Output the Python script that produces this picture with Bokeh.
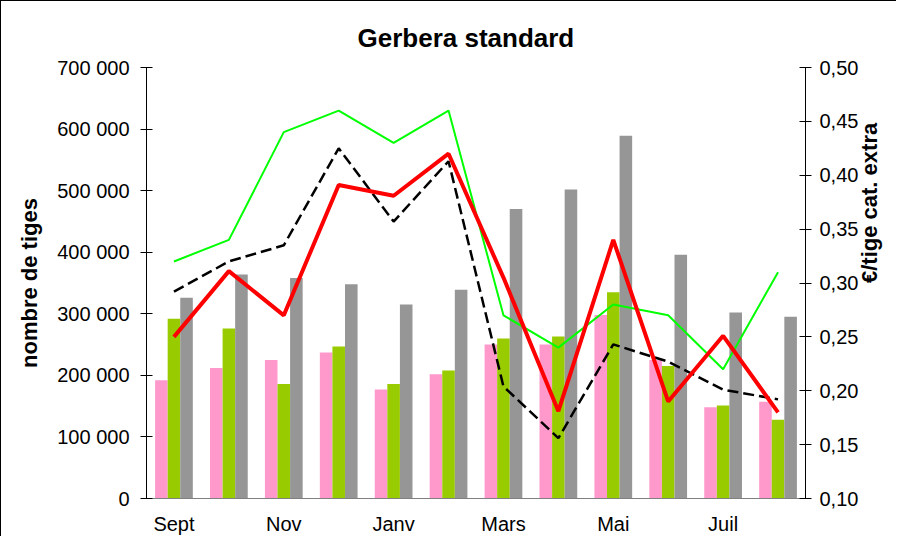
import math
from bokeh.plotting import figure
from bokeh.models import Range1d, LinearAxis, FixedTicker, CustomJSTickFormatter
from bokeh.embed import file_html
from bokeh.resources import INLINE

months = ["Sept", "Oct", "Nov", "Déc", "Janv", "Févr", "Mars", "Avr", "Mai", "Juin", "Juil", "Août"]
x_tick_labels = ["Sept", "Nov", "Janv", "Mars", "Mai", "Juil"]

stems_pink = [192000, 212000, 225000, 237000, 177000, 202000, 250000, 250000, 298000, 225000, 148000, 157000]
stems_green = [292000, 276000, 186000, 247000, 186000, 208000, 260000, 263000, 335000, 215000, 151000, 128000]
stems_gray = [326000, 364000, 358000, 348000, 315000, 339000, 470000, 502000, 589000, 396000, 302000, 295000]

price_green = [0.32, 0.34, 0.44, 0.46, 0.43, 0.46, 0.27, 0.24, 0.28, 0.27, 0.22, 0.31]
price_black = [0.292, 0.32, 0.335, 0.425, 0.357, 0.413, 0.204, 0.156, 0.243, 0.227, 0.201, 0.192]
price_red = [0.25, 0.311, 0.27, 0.391, 0.381, 0.42, 0.305, 0.181, 0.34, 0.19, 0.251, 0.18]

left_ticks = [0, 100000, 200000, 300000, 400000, 500000, 600000, 700000]
left_tick_labels = ["0", "100 000", "200 000", "300 000", "400 000", "500 000", "600 000", "700 000"]
right_ticks = [0.10, 0.15, 0.20, 0.25, 0.30, 0.35, 0.40, 0.45, 0.50]

FONT = "Liberation Sans"

xs = [i + 0.5 for i in range(len(months))]
bw = 0.229

p = figure(width=896, height=536, output_backend="svg", toolbar_location=None,
           x_range=Range1d(0, 12), y_range=Range1d(0, 700000),
           min_border_left=145, min_border_right=88, min_border_top=66, min_border_bottom=38,
           styles={"border-left": "1px solid #000", "border-top": "1px solid #000"})
p.extra_y_ranges = {"price": Range1d(0.10, 0.50)}
p.outline_line_color = None
p.xgrid.grid_line_color = None
p.ygrid.grid_line_color = None

p.title.text = "Gerbera standard"
p.title.align = "left"
p.title.text_font = FONT
p.title.text_font_size = "26px"
p.title.text_font_style = "bold"
p.title.text_color = "#000000"
p.title.offset = 211
p.title.standoff = 30

p.vbar(x=[x - bw for x in xs], top=stems_pink, width=bw, fill_color="#FF99CC", line_color=None)
p.vbar(x=xs, top=stems_green, width=bw, fill_color="#99CC00", line_color=None)
p.vbar(x=[x + bw for x in xs], top=stems_gray, width=bw, fill_color="#969696", line_color=None)

p.line(xs, price_green, line_color="#00FF00", line_width=2, y_range_name="price")
p.line(xs, price_black, line_color="#000000", line_width=2.5, line_dash="11 5", y_range_name="price")
p.line(xs, price_red, line_color="#FF0000", line_width=4, y_range_name="price")

# x axis
xa = p.xaxis[0]
xa.ticker = FixedTicker(ticks=xs[::2])
xa.major_label_overrides = {x: lab for x, lab in zip(xs[::2], x_tick_labels)}
xa.major_tick_out = 0
xa.major_tick_in = 0
xa.minor_tick_out = 0
xa.minor_tick_in = 0
xa.axis_line_color = "#808080"
xa.major_label_text_font = FONT
xa.major_label_text_font_size = "20px"
xa.major_label_text_color = "#000000"
xa.major_label_standoff = 14

# left axis
ya = p.yaxis[0]
ya.ticker = FixedTicker(ticks=left_ticks)
ya.major_label_overrides = {t: lab for t, lab in zip(left_ticks, left_tick_labels)}
ya.major_tick_in = 6
ya.major_tick_out = 6
ya.minor_tick_in = 0
ya.minor_tick_out = 0
ya.axis_line_color = "#000000"
ya.major_tick_line_color = "#000000"
ya.major_label_text_font = FONT
ya.major_label_text_font_size = "20px"
ya.major_label_text_color = "#000000"
ya.major_label_standoff = 11
ya.axis_label = "nombre de tiges"
ya.axis_label_text_font = FONT
ya.axis_label_text_font_size = "22px"
ya.axis_label_text_font_style = "bold"
ya.axis_label_text_color = "#000000"
ya.axis_label_standoff = 12

# right axis
ra = LinearAxis(y_range_name="price")
ra.ticker = FixedTicker(ticks=right_ticks)
ra.formatter = CustomJSTickFormatter(code="return tick.toFixed(2).replace('.', ',');")
ra.major_tick_in = 6
ra.major_tick_out = 6
ra.minor_tick_in = 0
ra.minor_tick_out = 0
ra.axis_line_color = "#000000"
ra.major_tick_line_color = "#000000"
ra.major_label_text_font = FONT
ra.major_label_text_font_size = "20px"
ra.major_label_text_color = "#000000"
ra.major_label_standoff = 8
ra.axis_label = "€/tige cat. extra"
ra.axis_label_text_font = FONT
ra.axis_label_text_font_size = "22px"
ra.axis_label_text_font_style = "bold"
ra.axis_label_text_color = "#000000"
ra.axis_label_standoff = 8
if hasattr(ra, "axis_label_orientation"):
    ra.axis_label_orientation = math.pi / 2
p.add_layout(ra, "right")

open("out.html", "w").write(file_html(p, INLINE))
